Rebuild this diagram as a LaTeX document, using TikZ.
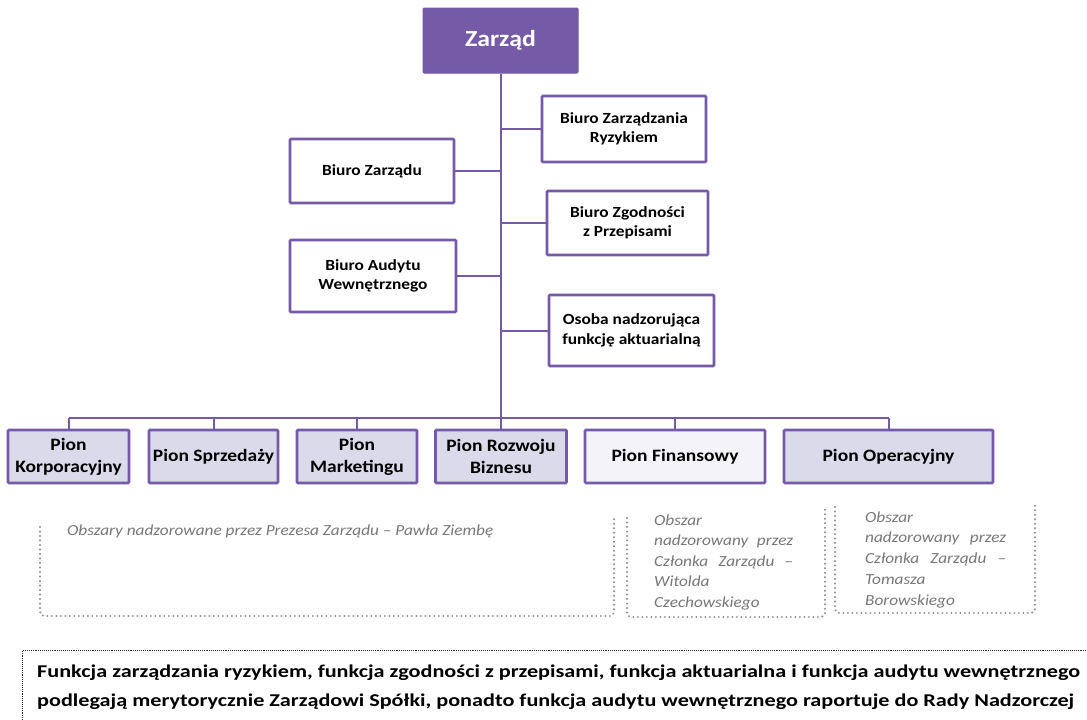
\documentclass[tikz,border=0pt]{standalone}
\usepackage{fontspec}
\usepackage{graphicx}
\setmainfont{Carlito}[FakeStretch=1.12]
\definecolor{purp}{RGB}{117,90,167}
\definecolor{pionfill}{RGB}{218,218,234}
\definecolor{finfill}{RGB}{243,243,249}
\definecolor{dotgray}{RGB}{140,140,140}
\definecolor{notegray}{RGB}{120,120,120}
\newsavebox\infoboxA
\newsavebox\infoboxB
\AtBeginDocument{%
\sbox\infoboxA{\fontsize{18}{18}\selectfont\bfseries Funkcja zarządzania ryzykiem, funkcja zgodności z przepisami, funkcja aktuarialna i funkcja audytu wewnętrznego}%
\sbox\infoboxB{\fontsize{18}{18}\selectfont\bfseries podlegają merytorycznie Zarządowi Spółki, ponadto funkcja audytu wewnętrznego raportuje do Rady Nadzorczej}%
\pgfmathsetmacro\infofac{1043/\the\wd\infoboxA}%
\global\let\infofac\infofac}
\begin{document}
\begin{tikzpicture}[x=1pt,y=-1pt,
  orgbox/.style={draw=purp, line width=2.6pt, rounded corners=1pt, inner sep=2pt, align=center, fill=white, text=black},
  biuro/.style={orgbox, font=\fontsize{15.5}{19.5}\selectfont\bfseries},
  pion/.style={orgbox, fill=pionfill, minimum height=53pt, font=\fontsize{17.4}{22}\selectfont\bfseries},
  link/.style={draw=purp, line width=2pt},
  bracketline/.style={draw=dotgray, line width=2.2pt, dash pattern=on 0pt off 4.5pt, line cap=round, rounded corners=4pt},
  note/.style={text=notegray, font=\fontsize{15.4}{20}\selectfont\itshape, inner sep=0pt, anchor=base west},
  infobox/.style={draw=black!80, line width=0.7pt, dash pattern=on 0.7pt off 1.2pt},
  infotext/.style={inner sep=0pt, anchor=base west, text=black}
]
\useasboundingbox[fill=white] (0,0) rectangle (1087,720);

% top
\node[draw=purp, fill=purp, line width=1pt, rounded corners=1pt, minimum width=155pt, minimum height=65pt,
      text=white, font=\fontsize{23}{28}\selectfont\bfseries] (zarzad) at (500.5,40.5) {Zarząd};

% offices
\node[biuro, minimum width=164pt, minimum height=66pt] (bzr) at (624,129) {Biuro Zarządzania\\Ryzykiem};
\node[biuro, minimum width=164pt, minimum height=64pt] (bz) at (372,171) {Biuro Zarządu};
\node[biuro, minimum width=161pt, minimum height=64pt] (bzg) at (627.5,223) {Biuro Zgodności\\z Przepisami};
\node[biuro, minimum width=166pt, minimum height=72pt] (ba) at (373,276) {Biuro Audytu\\Wewnętrznego};
\node[biuro, minimum width=165pt, minimum height=71pt] (osoba) at (631.5,330.5) {Osoba nadzorująca\\funkcję aktuarialną};

% divisions
\node[pion, minimum width=121pt] (korp) at (68.5,456.5) {Pion\\Korporacyjny};
\node[pion, minimum width=129pt] (sprz) at (213.5,456.5) {Pion Sprzedaży};
\node[pion, minimum width=120pt] (mark) at (357,456.5) {Pion\\Marketingu};
\node[pion, minimum width=131pt] (rozw) at (501,456.5) {Pion Rozwoju\\Biznesu};
\node[pion, fill=finfill, minimum width=180pt] (fin) at (675,456.5) {Pion Finansowy};
\node[pion, minimum width=209pt] (oper) at (888.5,456.5) {Pion Operacyjny};

% connectors
\coordinate (busL) at (68.5,418);
\coordinate (busR) at (888.5,418);
\draw[link] (zarzad.south) -- (zarzad.south |- busL);
\draw[link] (busL) -- (busR);
\foreach \n in {bzr,bzg,osoba}{\draw[link] (\n.west) -- (\n.west -| zarzad.south);}
\foreach \n in {bz,ba}{\draw[link] (\n.east) -- (\n.east -| zarzad.south);}
\foreach \n in {korp,sprz,mark,rozw,fin,oper}{\draw[link] (\n.north) -- (\n.north |- busL);}

% supervision brackets
\draw[bracketline] (40,527) -- (40,616) -- (614,616) -- (614,518);
\draw[bracketline] (627,518) -- (627,617) -- (825,617) -- (825,508);
\draw[bracketline] (835,507) -- (835,613) -- (1035,613) -- (1035,505);

\node[note] (n1) at (67,535) {Obszary nadzorowane przez Prezesa Zarządu – Pawła Ziembę};

\foreach \t [count=\i] in {Obszar, {\makebox[139pt][s]{nadzorowany przez}}, {\makebox[139pt][s]{Członka Zarządu –}}, Witolda, Czechowskiego}
  \node[note] (nb\i) at (654,{525+20.6*(\i-1)}) {\t};
\foreach \t [count=\i] in {Obszar, {\makebox[141pt][s]{nadzorowany przez}}, {\makebox[141pt][s]{Członka Zarządu –}}, Tomasza, Borowskiego}
  \node[note] (nc\i) at (865,{522+20.75*(\i-1)}) {\t};

% bottom note
\node[infobox, anchor=north west, minimum width=1100pt, minimum height=110pt] (info) at (22,650) {};
\node[infotext] (infoA) at (37,677) {\scalebox{\infofac}[1]{\usebox\infoboxA}};
\node[infotext] (infoB) at (37,706) {\scalebox{\infofac}[1]{\usebox\infoboxB}};
\end{tikzpicture}
\end{document}
